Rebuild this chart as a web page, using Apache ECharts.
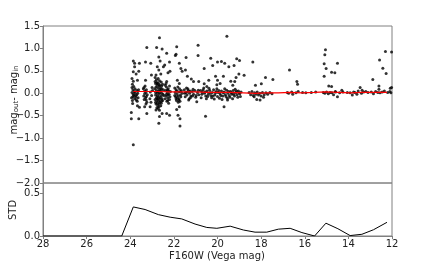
<!DOCTYPE html>
<html>
<head>
<meta charset="utf-8">
<script src="https://cdn.jsdelivr.net/npm/echarts@6/dist/echarts.min.js"></script>
<style>
  html, body { margin: 0; padding: 0; background: #fff; }
  #chart { width: 436px; height: 262px; }
</style>
</head>
<body>
<div id="chart"></div>
<script>
// magnitude differences (F160W mag, mag_out - mag_in)
var scatterPoints = [
  // ~23.9
  [23.86,0.72],[23.80,0.67],[23.86,0.48],[23.80,0.59],[23.73,0.43],[23.92,0.33],[23.58,0.67],[23.61,0.49],
  [23.67,0.29],[23.92,0.13],[23.95,-0.43],[23.95,-0.57],[23.61,-0.57],[23.86,-1.15],[23.67,-0.28],[23.58,-0.31],
  [23.89,-0.23],[23.90,0.20],[23.84,0.15],[23.78,0.10],[23.70,0.06],[23.92,0.02],[23.86,-0.02],[23.76,-0.05],
  [23.66,0.00],[23.88,-0.08],[23.80,-0.12],[23.72,-0.15],[23.94,-0.10],[23.62,0.08],[23.82,0.04],[23.74,-0.09],
  [23.68,-0.18],[23.86,0.27],[23.90,-0.16],[23.84,-0.05],[23.78,0.01],[23.70,-0.03],[23.64,-0.10],[23.88,0.08],
  // ~23.3
  [23.24,1.02],[23.30,0.70],[23.30,0.29],[23.37,0.13],[23.24,-0.45],[23.27,-0.15],[23.34,-0.30],
  [23.40,0.10],[23.34,0.05],[23.28,0.02],[23.22,-0.03],[23.38,-0.06],[23.30,-0.10],[23.26,0.08],[23.36,-0.14],
  [23.24,-0.20],[23.32,0.16],[23.28,-0.24],[23.34,-0.01],[23.26,-0.07],
  // ~23.0
  [23.06,0.67],[23.03,0.41],[23.09,-0.30],[23.00,0.13],[23.08,0.03],[23.02,-0.05],[23.10,-0.12],[22.98,0.06],[23.05,-0.20],
  // ~22.7
  [22.66,1.24],[22.79,1.02],[22.54,0.99],[22.69,0.81],[22.63,0.72],[22.76,0.59],[22.48,0.59],[22.69,0.52],
  [22.60,0.43],[22.82,0.41],[22.76,0.22],[22.66,-0.52],[22.69,-0.67],[22.82,-0.37],[22.54,-0.45],
  [22.86,0.35],[22.80,0.30],[22.72,0.33],[22.66,0.28],[22.58,0.25],[22.52,0.20],
  [22.84,0.22],[22.76,0.18],[22.68,0.16],[22.62,0.12],[22.56,0.10],[22.48,0.08],
  [22.88,0.10],[22.80,0.06],[22.72,0.04],[22.64,0.02],[22.56,0.00],[22.50,-0.02],
  [22.84,-0.04],[22.76,-0.06],[22.70,-0.08],[22.62,-0.10],[22.54,-0.12],[22.46,-0.05],
  [22.86,-0.14],[22.78,-0.16],[22.70,-0.18],[22.64,-0.20],[22.58,-0.22],[22.52,-0.16],
  [22.82,-0.24],[22.74,-0.27],[22.68,-0.30],[22.60,-0.28],[22.72,-0.34],[22.66,-0.38],[22.78,-0.32],
  [22.74,0.12],[22.68,-0.02],[22.60,0.06],[22.82,0.14],[22.76,-0.12],
  [22.86,0.26],[22.78,0.24],[22.70,0.22],[22.64,0.18],[22.56,0.16],[22.84,0.02],[22.76,0.00],[22.66,0.08],
  [22.58,-0.06],[22.80,-0.10],[22.72,-0.12],[22.64,-0.14],[22.56,-0.18],[22.84,-0.20],[22.76,-0.22],[22.68,-0.24],
  // ~22.3
  [22.33,0.89],[22.20,0.70],[22.42,0.63],[22.27,0.46],[22.18,0.49],[22.33,0.26],[22.33,-0.45],[22.20,-0.49],
  [22.40,0.18],[22.34,0.14],[22.26,0.10],[22.20,0.16],[22.38,0.06],[22.30,0.02],[22.22,-0.02],[22.16,0.04],
  [22.36,-0.06],[22.28,-0.10],[22.20,-0.14],[22.32,-0.18],[22.24,-0.22],[22.18,-0.08],[22.40,-0.12],
  [22.30,0.08],[22.24,0.05],[22.34,-0.02],[22.26,-0.04],[22.36,0.22],[22.28,-0.16],
  // ~21.8
  [21.87,1.04],[21.90,0.87],[21.93,0.84],[21.75,0.67],[21.68,0.55],[21.62,0.49],[21.84,0.29],[21.75,0.22],
  [21.78,-0.15],[21.87,-0.36],[21.75,-0.30],[21.72,-0.57],[21.72,-0.73],[21.81,-0.49],
  [21.96,0.12],[21.90,0.08],[21.82,0.14],[21.74,0.10],[21.66,0.06],[21.94,0.02],[21.86,-0.02],[21.78,0.03],
  [21.70,-0.04],[21.62,0.00],[21.92,-0.08],[21.84,-0.10],[21.76,-0.12],[21.68,-0.08],[21.88,-0.16],[21.80,-0.20],
  [21.72,-0.18],[21.96,-0.05],[21.86,0.05],[21.80,-0.06],[21.90,-0.12],[21.70,0.04],
  // ~21.2
  [21.47,0.52],[21.38,0.38],[21.44,0.80],[20.89,1.07],[20.89,0.84],[21.20,0.32],[21.10,0.26],[20.86,0.26],
  [21.32,-0.15],[20.95,-0.19],
  [21.52,0.08],[21.46,0.02],[21.40,-0.04],[21.34,0.06],[21.28,0.00],[21.22,-0.06],[21.16,0.04],[21.10,-0.02],
  [21.04,0.06],[20.98,-0.05],[20.92,0.02],[20.86,-0.03],[21.48,-0.08],[21.36,0.10],[21.24,-0.10],[21.12,0.09],
  [21.00,-0.09],[20.88,0.07],[21.42,0.12],[21.30,-0.12],[21.50,0.00],[21.38,0.03],[21.26,0.05],[21.14,-0.06],
  // 20.8 - 18.9
  [20.61,0.55],[20.31,0.78],[20.22,0.62],[20.00,0.70],[19.82,0.71],[19.67,0.67],[19.57,1.27],[19.48,0.59],
  [19.24,0.62],[19.12,0.77],[18.99,0.73],[19.02,0.43],[20.09,0.38],[20.00,0.29],[19.73,0.38],[19.39,0.27],
  [19.21,0.26],[19.15,0.35],[18.78,0.40],[19.70,-0.30],[19.54,-0.15],[20.49,0.15],[20.03,0.19],[20.61,0.21],
  [20.55,-0.51],[20.40,0.29],[19.88,0.22],[19.30,0.18],
  [20.78,0.06],[20.72,-0.02],[20.66,0.08],[20.60,0.00],[20.54,-0.06],[20.48,0.05],[20.42,-0.02],[20.36,0.07],
  [20.30,-0.05],[20.24,0.02],[20.18,0.08],[20.12,-0.04],[20.06,0.04],[20.00,-0.07],[19.94,0.06],[19.88,-0.01],
  [19.82,0.05],[19.76,-0.06],[19.70,0.03],[19.64,-0.03],[19.58,0.07],[19.52,0.00],[19.46,-0.05],[19.40,0.04],
  [19.34,-0.02],[19.28,0.06],[19.22,-0.06],[19.16,0.02],[19.10,-0.03],[19.04,0.05],[18.98,-0.01],[18.92,0.03],
  [20.75,-0.10],[20.63,0.12],[20.51,-0.12],[20.39,0.11],[20.27,-0.10],[20.15,-0.13],[20.03,0.10],[19.91,-0.11],
  [19.79,-0.14],[19.67,0.10],[19.55,-0.11],[19.43,-0.09],[19.31,-0.12],[19.19,0.09],[19.07,-0.09],[18.95,-0.07],
  [20.70,0.03],[20.57,0.03],[20.45,-0.07],[20.33,0.01],[20.21,-0.06],[20.09,0.01],[19.97,0.02],[19.85,-0.05],
  [19.73,0.01],[19.61,-0.07],[19.49,0.04],[19.37,0.01],[19.25,-0.02],[19.13,0.05],[19.01,0.01],
  // ~18.0
  [18.38,0.70],[18.26,0.18],[17.99,0.21],[17.80,0.35],[17.46,0.31],[18.32,-0.08],[18.20,-0.14],[18.05,-0.15],
  [17.89,-0.09],
  [18.55,0.02],[18.48,-0.03],[18.42,0.04],[18.36,-0.05],[18.30,0.01],[18.24,-0.02],[18.18,0.03],[18.12,-0.04],
  [18.06,0.00],[18.00,-0.06],[17.94,0.02],[17.86,-0.03],[17.78,0.01],[17.70,-0.02],[17.60,0.02],[17.50,-0.01],
  // ~16.3
  [16.70,0.52],[16.36,0.26],[16.33,0.20],[16.80,0.02],[16.74,0.00],[16.60,0.03],[16.40,0.01],[16.30,0.04],
  [16.10,0.02],[15.95,0.01],[15.70,0.02],[15.50,0.03],[16.55,-0.02],
  // ~14.8
  [15.05,0.97],[15.08,0.86],[15.11,0.66],[15.02,0.55],[15.11,0.38],[14.77,0.47],[14.62,0.46],[14.50,0.67],
  [14.90,0.16],[14.77,0.15],[14.59,0.03],[14.50,-0.08],[14.30,0.07],
  [15.15,0.02],[15.08,0.00],[15.00,0.03],[14.92,-0.01],[14.84,0.02],[14.76,0.01],[14.68,-0.03],[14.60,0.04],
  [14.40,0.01],[14.25,0.03],
  // ~13.6
  [13.76,0.03],[13.46,0.13],[13.37,0.07],[13.61,-0.02],[13.92,0.01],[13.82,-0.04],[13.70,0.02],[13.55,0.05],
  [13.40,0.00],[13.30,0.03],[13.20,0.04],[14.05,0.02],
  // ~12.5
  [12.88,0.31],[12.57,0.74],[12.42,0.56],[12.30,0.93],[12.27,0.44],[12.02,0.92],[12.60,0.16],[12.60,0.09],
  [12.08,0.11],[12.02,0.13],
  [13.10,0.02],[12.95,0.03],[12.85,-0.01],[12.75,0.04],[12.65,0.02],[12.55,0.01],[12.45,0.03],[12.35,0.05],
  [12.20,0.02],[12.10,0.04],[12.05,0.01]
];

// binned median (red line)
var binMag = [23.86,23.32,22.71,22.17,21.64,21.03,20.49,20.03,19.42,18.81,18.28,17.74,17.21,16.67,16.13,15.55,15.03,14.48,13.92,13.38,12.85,12.23];
var binMedian = [0.04,0.04,0.04,0.03,0.03,0.03,0.02,0.02,0.02,0.01,0.00,0.01,0.01,0.02,0.01,0.02,0.03,0.02,0.01,0.02,0.02,0.02];

// STD per bin (lower panel)
var stdMag = [28.0,24.39,23.86,23.32,22.71,22.17,21.64,21.03,20.49,20.03,19.42,18.81,18.28,17.74,17.21,16.67,16.13,15.55,15.03,14.48,13.92,13.38,12.85,12.23];
var stdVal = [0,0,0.34,0.31,0.25,0.22,0.20,0.14,0.10,0.09,0.115,0.07,0.045,0.045,0.08,0.09,0.04,0.0,0.15,0.085,0.005,0.02,0.073,0.16];

function zip(a, b) {
  return a.map(function (v, i) { return [v, b[i]]; });
}
function fmt(v) {
  return v.toFixed(1).replace('-', '\u2212');
}
function fmtStd(v) {
  return (v === 0 || v === 0.5) ? v.toFixed(1) : '';
}

var axisGray = '#808080';
var txt = '#222';
var font = 'DejaVu Sans';

var myChart = echarts.init(document.getElementById('chart'));
var option = {
  animation: false,
  grid: [
    { left: 43, right: 44, top: 26, height: 157, show: true, borderColor: axisGray, borderWidth: 1 },
    { left: 43, right: 44, top: 183, height: 53, show: true, borderColor: axisGray, borderWidth: 1 }
  ],
  // axis titles as plain text so they don't squeeze the grids
  graphic: [
    {
      type: 'text', x: 13, y: 100, rotation: Math.PI / 2,
      style: {
        text: '{a|mag}{s|out}{a|- mag}{s|in}', align: 'center', verticalAlign: 'middle',
        rich: {
          a: { fontSize: 10, fontFamily: font, fill: txt, lineHeight: 13, verticalAlign: 'bottom' },
          s: { fontSize: 7, fontFamily: font, fill: txt, lineHeight: 13, verticalAlign: 'bottom' }
        }
      }
    },
    {
      type: 'text', x: 13, y: 210, rotation: Math.PI / 2,
      style: { text: 'STD', align: 'center', verticalAlign: 'middle', fontSize: 10, fontFamily: font, fill: txt }
    },
    {
      type: 'text', x: 217, y: 256,
      style: { text: 'F160W (Vega mag)', align: 'center', verticalAlign: 'middle', fontSize: 10, fontFamily: font, fill: txt }
    }
  ],
  xAxis: [
    {
      gridIndex: 0, type: 'value', min: 12, max: 28, interval: 2, inverse: true,
      axisLine: { show: false }, axisTick: { show: false }, axisLabel: { show: false },
      splitLine: { show: false }
    },
    {
      gridIndex: 1, type: 'value', min: 12, max: 28, interval: 2, inverse: true,
      axisLine: { show: true, lineStyle: { color: axisGray, width: 1 } },
      axisTick: { show: true, length: 3, lineStyle: { color: axisGray } },
      axisLabel: { fontSize: 10, color: txt, margin: 3, fontFamily: font },
      splitLine: { show: false }
    }
  ],
  yAxis: [
    {
      gridIndex: 0, type: 'value', min: -2, max: 1.5, interval: 0.5,
      axisLine: { show: true, lineStyle: { color: axisGray } },
      axisTick: { show: true, length: 3, lineStyle: { color: axisGray } },
      axisLabel: { fontSize: 10, color: txt, margin: 3, fontFamily: font, formatter: fmt },
      splitLine: { show: false }
    },
    {
      gridIndex: 1, type: 'value', min: 0, max: 0.62, interval: 0.5,
      axisLine: { show: true, lineStyle: { color: axisGray } },
      axisTick: { show: true, length: 3, lineStyle: { color: axisGray } },
      axisLabel: { fontSize: 10, color: txt, margin: 3, fontFamily: font, formatter: fmtStd, showMaxLabel: false },
      splitLine: { show: false }
    }
  ],
  series: [
    {
      type: 'scatter', xAxisIndex: 0, yAxisIndex: 0,
      data: scatterPoints, symbolSize: 3,
      itemStyle: { color: '#000' }, z: 2
    },
    {
      type: 'line', xAxisIndex: 0, yAxisIndex: 0,
      data: zip(binMag, binMedian), showSymbol: false,
      lineStyle: { color: '#ff0000', width: 1.2 }, z: 3
    },
    {
      type: 'line', xAxisIndex: 1, yAxisIndex: 1,
      data: zip(stdMag, stdVal), showSymbol: false,
      lineStyle: { color: '#000', width: 1 }, z: 3
    }
  ]
};
myChart.setOption(option);
</script>
</body>
</html>
